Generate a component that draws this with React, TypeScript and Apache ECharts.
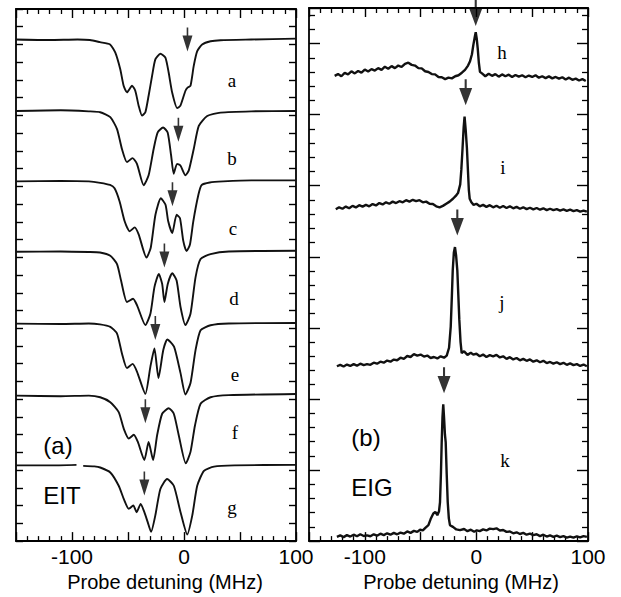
import React, { useEffect, useRef } from 'react';
import * as echarts from 'echarts';

// ---------- data ----------
const detuningMin = -150;
const detuningMax = 100;
const xTickLabels = ['-100', '0', '100'];
const axisTitle = 'Probe detuning (MHz)';

const eitLabels = ['a', 'b', 'c', 'd', 'e', 'f', 'g'];
const eitOffsets = [28.25, 24.25, 20.28, 16.31, 12.26, 8.2, 4.27];

const eigLabels = ['h', 'i', 'j', 'k'];
const eigOffsets = [32.75, 23.53, 13.0, 0.7];

// EIT transmission (relative to each trace's baseline)
const traceA: [number, number | null][] = [
  [-150, 0.03], [-120, 0], [-95, 0.03], [-84, 0], [-75, -0.12], [-66, -0.25], [-61.4, -0.7], [-56.9, -1.65],
  [-53.9, -2.58], [-50.9, -2.95], [-46.4, -2.58], [-43.5, -2.86], [-40.5, -3.7], [-37.5, -4.26], [-34.5, -4.07],
  [-31.6, -3.14], [-28.5, -2.02], [-25.6, -1.09], [-21.1, -0.77], [-16.6, -0.99], [-13.7, -1.83], [-10.6, -2.95],
  [-6.1, -3.84], [-3.2, -3.7], [1.3, -2.86], [3.4, -2.67], [5.8, -2.58], [8.7, -1.46], [11.8, -0.63], [16.2, -0.25],
  [23.7, -0.07], [32.6, -0.01], [60, 0.03], [100, 0.08],
];
const traceB: [number, number | null][] = [
  [-150, 0], [-110, 0.04], [-85, -0.02], [-74.8, -0.07], [-65.8, -0.35], [-59.8, -1.02], [-55.4, -2.14],
  [-50.9, -2.88], [-45.9, -2.66], [-42, -2.98], [-36, -4.19], [-31.6, -3.63], [-27.1, -2.14], [-23.5, -1.21],
  [-18.7, -0.93], [-14.6, -1.21], [-11.5, -2.51], [-9.2, -3.54], [-6.2, -2.98], [-3.2, -3.07], [1.3, -3.63],
  [4.3, -3.35], [8.7, -2.14], [13.2, -0.84], [20.7, -0.28], [32.6, -0.09], [60, -0.02], [100, 0],
];
const traceC: [number, number | null][] = [
  [-150, 0], [-110, 0.03], [-85, 0], [-74.8, -0.08], [-66, -0.2], [-62, -0.39], [-57.5, -1.13], [-53, -2.25],
  [-48.5, -2.81], [-44, -2.59], [-40.4, -3.0], [-33.5, -4.3], [-29.7, -3.74], [-25.5, -1.88], [-20.7, -0.95],
  [-16.5, -1.32], [-14.1, -2.25], [-10.5, -2.91], [-6.6, -1.88], [-3.6, -2.07], [-0.6, -3.37], [2.3, -3.93],
  [5.3, -3.56], [8.3, -2.25], [12.8, -0.77], [15.7, -0.21], [23, -0.06], [35, 0], [60, 0.06], [100, 0.06],
];
const traceD: [number, number | null][] = [
  [-150, 0], [-110, 0.02], [-85, -0.01], [-75, -0.04], [-65.8, -0.22], [-59.8, -0.69], [-56.2, -1.62],
  [-50.9, -2.83], [-45.5, -2.65], [-41.9, -3.02], [-34.5, -4.13], [-30, -3.49], [-26.4, -1.99], [-22.5, -1.25],
  [-19.5, -1.81], [-17.5, -2.83], [-14.5, -1.81], [-10.5, -1.21], [-6.6, -1.62], [-3.1, -3.11], [1.3, -4.13],
  [5.8, -3.49], [10.3, -1.44], [14.8, -0.41], [23.7, -0.13], [40, 0.02], [100, 0.06],
];
const traceE: [number, number | null][] = [
  [-150, 0], [-110, -0.02], [-85, 0.01], [-75, -0.04], [-65.8, -0.18], [-59.8, -0.56], [-55.4, -1.68],
  [-50.9, -2.51], [-45.9, -2.27], [-42, -2.7], [-34.5, -3.96], [-30, -2.42], [-26.4, -1.4], [-22.8, -3.07],
  [-18.5, -1.49], [-14.9, -0.89], [-8.9, -1.3], [-3.1, -2.79], [1.3, -4.0], [5.8, -3.35], [10.3, -1.49],
  [14.8, -0.37], [23.7, -0.09], [40, 0.01], [100, 0.04],
];
const traceF: [number, number | null][] = [
  [-150, 0], [-110, -0.03], [-85, 0], [-74.8, -0.09], [-65.8, -0.37], [-58.3, -0.93], [-53.8, -1.86],
  [-49.3, -2.42], [-44.8, -2.2], [-41.2, -2.61], [-35.4, -3.63], [-31.6, -2.61], [-27.6, -3.63], [-24, -2.23],
  [-19.5, -1.02], [-13.6, -0.71], [-9.1, -1.02], [-4.7, -2.23], [1.6, -3.82], [5.8, -3.17], [9.8, -1.68],
  [14.8, -0.46], [23.7, -0.09], [40, 0.03], [100, 0.09],
];
const traceG: [number, number | null][] = [
  [-150, 0], [-120, 0], [-96, 0.03], [-93, null], [-90, -0.03], [-80, -0.06], [-74.8, -0.12], [-65.8, -0.4],
  [-58.3, -1.15], [-53.8, -1.89], [-49.3, -2.45], [-45.3, -2.26], [-42.3, -2.64], [-38.7, -2.17], [-35.4, -2.64],
  [-32.4, -3.2], [-29.4, -3.75], [-25.6, -2.82], [-21.1, -1.33], [-15.1, -0.77], [-9.1, -1.15], [-3.1, -2.64],
  [2.9, -3.9], [7.4, -2.82], [11.8, -1.15], [17.8, -0.31], [26.8, -0.07], [45, 0], [100, 0.03],
];

// EIG gain (relative to each trace's baseline)
const traceH: [number, number][] = [
  [-127, -0.02], [-124, 0.1], [-121, -0.05], [-118, 0.18], [-115, 0.08], [-112, 0.3], [-109, 0.15], [-106, 0.32],
  [-103, 0.2], [-100, 0.42], [-97, 0.28], [-94, 0.45], [-91, 0.35], [-88, 0.52], [-85, 0.4], [-82, 0.62],
  [-79, 0.48], [-76, 0.66], [-73, 0.52], [-70, 0.7], [-67, 0.6], [-64, 0.82], [-61, 0.9], [-58, 0.75],
  [-55, 0.7], [-52, 0.52], [-49, 0.5], [-46, 0.3], [-43, 0.25], [-40, 0.1], [-37, 0.08], [-34, -0.1],
  [-31, -0.12], [-28, -0.25], [-25, -0.15], [-22, -0.2], [-19, -0.05], [-16, 0.02], [-13, 0.2], [-10.2, 0.4],
  [-7.5, 0.7], [-5.7, 1.0], [-4, 1.5], [-2.8, 2.12], [-1.5, 2.7], [-0.6, 3.05], [0.3, 2.6], [1.2, 1.89],
  [2.2, 0.9], [3.2, 0.26], [5, 0.15], [8, -0.05], [11, 0.12], [14, -0.02], [17, 0.1], [20, -0.08], [23, 0.08],
  [26, -0.05], [29, 0.06], [32, -0.1], [35, 0.04], [38, -0.08], [41, 0.02], [44, -0.12], [47, 0], [50, -0.1],
  [53, 0.02], [56, -0.15], [59, -0.05], [62, -0.18], [65, -0.06], [68, -0.2], [71, -0.1], [74, -0.22],
  [77, -0.12], [80, -0.28], [83, -0.15], [86, -0.3], [89, -0.22], [92, -0.35], [95, -0.25], [98, -0.38],
];
const traceI: [number, number][] = [
  [-126, -0.19], [-123, -0.05], [-120, -0.15], [-117, 0], [-114, -0.12], [-111, 0.05], [-108, -0.06], [-105, 0.1],
  [-102, 0], [-99, 0.12], [-96, 0.02], [-93, 0.18], [-90, 0.08], [-87, 0.25], [-84, 0.15], [-81, 0.3],
  [-78, 0.2], [-75, 0.35], [-72, 0.25], [-69, 0.38], [-66, 0.3], [-63, 0.45], [-60, 0.35], [-57, 0.48],
  [-54, 0.38], [-51, 0.45], [-48, 0.3], [-45, 0.35], [-42, 0.2], [-39, 0.18], [-36, 0.02], [-33, -0.05],
  [-30, 0.05], [-27, 0.2], [-24, 0.35], [-21, 0.55], [-18.5, 0.75], [-16.5, 0.95], [-14.5, 1.56], [-13.5, 2.6],
  [-12.4, 4.12], [-11.4, 5.6], [-10.6, 6.33], [-9.6, 5.4], [-8.5, 4.12], [-7.5, 2.4], [-6.8, 1.2], [-6, 0.55],
  [-4.5, 0.3], [-2.5, 0.12], [0, 0.2], [3, 0.02], [6, 0.12], [9, -0.02], [12, 0.1], [15, -0.05], [18, 0.06],
  [21, -0.08], [24, 0.04], [27, -0.1], [30, 0.02], [33, -0.12], [36, -0.02], [39, -0.15], [42, -0.05],
  [45, -0.18], [48, -0.08], [51, -0.2], [54, -0.1], [57, -0.22], [60, -0.12], [63, -0.25], [66, -0.15],
  [69, -0.25], [72, -0.18], [75, -0.28], [78, -0.2], [81, -0.3], [84, -0.22], [87, -0.32], [90, -0.25],
  [93, -0.35], [96, -0.28], [99, -0.36],
];
const traceJ: [number, number][] = [
  [-125, -0.7], [-122, -0.6], [-119, -0.72], [-116, -0.58], [-113, -0.68], [-110, -0.55], [-107, -0.66],
  [-104, -0.52], [-101, -0.62], [-98, -0.55], [-95, -0.6], [-92, -0.45], [-89, -0.52], [-86, -0.38], [-83, -0.45],
  [-80, -0.3], [-77, -0.38], [-74, -0.23], [-71, -0.28], [-68, -0.1], [-65, -0.18], [-62, 0.02], [-59, -0.05],
  [-56, 0.15], [-53, 0.05], [-50, 0.12], [-47, -0.02], [-44, 0.05], [-41, -0.12], [-38, -0.05], [-35, -0.15],
  [-32, 0], [-29, -0.1], [-26.6, 0.05], [-24.5, 0.6], [-23, 2.09], [-22, 4.2], [-21.2, 6.05], [-20.2, 7.3],
  [-19.2, 7.68], [-18.2, 7.1], [-17.1, 6.05], [-16.2, 4.3], [-15.3, 2.56], [-14.2, 1.0], [-13.2, 0.23],
  [-11, 0.35], [-8, 0.1], [-5, 0.25], [-2.8, 0.12], [0, 0.18], [3, 0], [6, 0.12], [9, -0.05], [12, 0.08],
  [15, 0], [18, 0.1], [21, -0.08], [24, 0], [27, -0.18], [30, -0.06], [33, -0.22], [36, -0.12], [39, -0.28],
  [42, -0.18], [45, -0.32], [48, -0.22], [51, -0.38], [54, -0.28], [57, -0.42], [60, -0.32], [63, -0.48],
  [66, -0.4], [69, -0.52], [72, -0.42], [75, -0.55], [78, -0.46], [81, -0.6], [84, -0.5], [87, -0.62],
  [90, -0.55], [93, -0.68], [96, -0.58], [99, -0.7],
];
const traceK: [number, number][] = [
  [-125, -0.4], [-122, -0.3], [-119, -0.42], [-116, -0.28], [-113, -0.38], [-110, -0.25], [-107, -0.36],
  [-104, -0.22], [-101, -0.34], [-98, -0.3], [-95, -0.36], [-92, -0.22], [-89, -0.32], [-86, -0.18], [-83, -0.28],
  [-80, -0.15], [-77, -0.25], [-74, -0.12], [-71, -0.22], [-68, -0.1], [-65, -0.18], [-62, -0.02], [-59, -0.12],
  [-56, 0.02], [-53, -0.05], [-50.5, 0.1], [-48, 0.05], [-45.5, 0.25], [-43, 0.42], [-41, 0.85], [-38.6, 1.24],
  [-36.8, 1.35], [-35, 1.12], [-33.5, 1.4], [-32.6, 2.05], [-31.8, 4.0], [-31.1, 6.24], [-30.4, 8.0],
  [-29.7, 8.92], [-29, 8.0], [-28.2, 6.8], [-27.5, 6.24], [-26.6, 4.0], [-25.7, 2.05], [-24.7, 0.9],
  [-23.7, 0.42], [-21, 0.3], [-18, 0.12], [-14.7, 0.07], [-11, 0.15], [-8, 0], [-5, 0.1], [-2, -0.04],
  [0.3, 0.05], [3, 0], [6, 0.12], [9, 0.05], [12, 0.18], [15.1, 0.14], [18, 0.2], [21, 0.05], [24, 0.08],
  [27, -0.05], [30, -0.02], [33, -0.15], [36, -0.08], [39, -0.2], [42, -0.12], [45, -0.25], [48, -0.18],
  [51, -0.28], [54, -0.22], [57, -0.35], [60, -0.25], [63, -0.38], [66, -0.3], [69, -0.4], [72, -0.32],
  [75, -0.42], [78, -0.35], [81, -0.45], [84, -0.38], [87, -0.46], [90, -0.36], [93, -0.44], [96, -0.35],
  [99, -0.4],
];

const eitTraces = [traceA, traceB, traceC, traceD, traceE, traceF, traceG];
const eigTraces = [traceH, traceI, traceJ, traceK];

// arrow tips (detuning, level)
const eitArrows: [number, number][] = [
  [3.1, 27.6], [-5, 22.51], [-10.3, 18.88], [-17.5, 15.42], [-25.6, 11.34], [-34.5, 6.65], [-35.4, 2.57],
];
const eigArrows: [number, number][] = [[-0.6, 36.24], [-9.6, 30.66], [-17.1, 21.5], [-29, 10.4]];

// ---------- chart ----------
const SANS = '"Liberation Sans", Arial, Helvetica, sans-serif';
const SERIF = '"Liberation Serif", "Times New Roman", serif';
const ARROW = 'path://M4.2,0 L5.8,0 L5.8,8 L10,8 L5,24 L0,8 L4.2,8 Z';

function xAxisCfg(gridIndex: number, position: string, withLabels: boolean, titlePad: number) {
  return {
    type: 'value',
    gridIndex,
    position,
    min: detuningMin,
    max: detuningMax,
    interval: 50,
    axisLine: { show: true, onZero: false, lineStyle: { color: '#000', width: 1.8 } },
    axisTick: { show: true, inside: true, length: 9, lineStyle: { color: '#000', width: 1.4 } },
    minorTick: { show: true, splitNumber: 5, length: 5, lineStyle: { color: '#000', width: 1.3 } },
    splitLine: { show: false },
    minorSplitLine: { show: false },
    axisLabel: withLabels
      ? {
          show: true,
          margin: 5,
          fontSize: 21,
          color: '#000',
          fontFamily: SANS,
          formatter: (v: number) => (xTickLabels.includes(String(v)) ? String(v) : ''),
        }
      : { show: false },
    ...(withLabels
      ? {
          name: axisTitle,
          nameLocation: 'middle',
          nameGap: 26,
          nameTextStyle: { fontSize: 20, color: '#000', fontFamily: SANS, padding: [0, 0, 0, titlePad] },
        }
      : {}),
  };
}

function yAxisCfg(gridIndex: number, position: string, max: number, interval: number, minor: boolean, len: number) {
  return {
    type: 'value',
    gridIndex,
    position,
    min: 0,
    max,
    interval,
    axisLine: { show: true, onZero: false, lineStyle: { color: '#000', width: 1.8 } },
    axisTick: { show: true, inside: true, length: len, lineStyle: { color: '#000', width: 1.4 } },
    minorTick: { show: minor, splitNumber: 5, length: 6, lineStyle: { color: '#000', width: 1.3 } },
    splitLine: { show: false },
    minorSplitLine: { show: false },
    axisLabel: { show: false },
  };
}

const labelPos = {
  eit: [[232, 80], [232, 158], [233, 228], [234, 298], [235, 374], [235, 432], [232, 507]],
  eig: [[502, 52], [503, 167], [502, 302], [505, 460]],
};

export default function App() {
  const ref = useRef<HTMLDivElement>(null);
  useEffect(() => {
    if (!ref.current) return;
    const chart = echarts.init(ref.current, undefined, { renderer: 'svg' });

    const series: any[] = [];
    eitTraces.forEach((t, i) => {
      series.push({
        type: 'line',
        name: eitLabels[i],
        xAxisIndex: 0,
        yAxisIndex: 0,
        showSymbol: false,
        smooth: 0.2,
        connectNulls: false,
        lineStyle: { color: '#111', width: 1.9 },
        data: t.map(([x, v]) => [x, v == null ? null : +(v + eitOffsets[i]).toFixed(3)]),
      });
    });
    eigTraces.forEach((t, i) => {
      series.push({
        type: 'line',
        name: eigLabels[i],
        xAxisIndex: 2,
        yAxisIndex: 2,
        showSymbol: false,
        smooth: false,
        lineStyle: { color: '#111', width: 2.4 },
        data: t.map(([x, v]) => [x, +(v + eigOffsets[i]).toFixed(3)]),
      });
    });
    series.push({
      type: 'scatter',
      xAxisIndex: 0,
      yAxisIndex: 0,
      clip: false,
      symbol: ARROW,
      symbolSize: [10, 24],
      symbolOffset: [0, '-50%'],
      itemStyle: { color: '#000' },
      data: eitArrows,
      silent: true,
    });
    series.push({
      type: 'scatter',
      xAxisIndex: 2,
      yAxisIndex: 2,
      clip: false,
      symbol: ARROW,
      symbolSize: [13, 26],
      symbolOffset: [0, '-50%'],
      itemStyle: { color: '#000' },
      data: eigArrows,
      silent: true,
    });

    const txt = (text: string, x: number, y: number, font: string) => ({
      type: 'text',
      x,
      y,
      style: {
        text,
        font,
        fill: '#000',
        textAlign: 'center',
        textVerticalAlign: 'middle',
        align: 'center',
        verticalAlign: 'middle',
      },
    });

    const graphics: any[] = [];
    eitLabels.forEach((l, i) => graphics.push(txt(l, labelPos.eit[i][0], labelPos.eit[i][1], `19px ${SERIF}`)));
    eigLabels.forEach((l, i) => graphics.push(txt(l, labelPos.eig[i][0], labelPos.eig[i][1], `19px ${SERIF}`)));
    graphics.push(txt('(a)', 58, 445, `24px ${SANS}`));
    graphics.push(txt('EIT', 62, 495, `24px ${SANS}`));
    graphics.push(txt('(b)', 366, 437, `24px ${SANS}`));
    graphics.push(txt('EIG', 372, 487, `24px ${SANS}`));

    chart.setOption({
      animation: false,
      backgroundColor: '#fff',
      grid: [
        { left: 16, top: 9, width: 280, height: 537 },
        { left: 309, top: 8, width: 279, height: 538 },
      ],
      xAxis: [
        xAxisCfg(0, 'bottom', true, 18),
        xAxisCfg(0, 'top', false, 0),
        xAxisCfg(1, 'bottom', true, 25),
        xAxisCfg(1, 'top', false, 0),
      ],
      yAxis: [
        yAxisCfg(0, 'left', 30, 1, false, 7),
        yAxisCfg(0, 'right', 30, 1, false, 7),
        yAxisCfg(1, 'left', 37.5, 5, true, 11),
        yAxisCfg(1, 'right', 37.5, 5, true, 11),
      ],
      series,
      graphic: graphics,
    });
    return () => chart.dispose();
  }, []);

  return (
    <div
      ref={ref}
      style={{ position: 'fixed', left: 0, top: 0, width: 621, height: 597, background: '#fff' }}
    />
  );
}
